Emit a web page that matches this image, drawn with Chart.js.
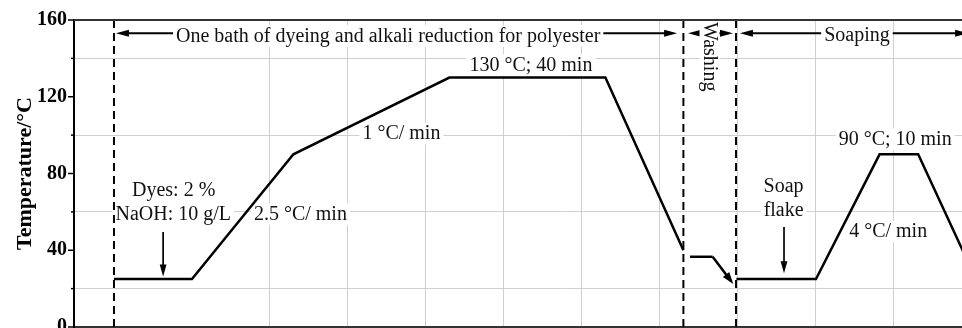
<!DOCTYPE html>
<html><head><meta charset="utf-8">
<script src="https://cdn.jsdelivr.net/npm/chart.js@4"></script>
<style>
html,body{margin:0;padding:0;overflow:hidden;background:#fff;width:962px;height:328px}
#wrap{position:absolute;left:0;top:0;width:1060px;height:360px}
</style>
</head><body><div id="wrap"><canvas id="c"></canvas></div>
<script>
// ---- data (time in min, temperature in °C) ----
const dyeingTime  = [0, 20, 46, 86, 126, 146];
const dyeingTemp  = [25, 25, 90, 130, 130, 40];
const washingTime = [147.7, 153.5];
const washingTemp = [36.6, 36.6];
const soapingTime = [159.6, 180, 196.3, 206.2, 221];
const soapingTemp = [25, 25, 90, 90, 25];
const stageBounds = [0, 146, 159.5];
const yTickLabels = [0, 40, 80, 120, 160];

// ---- annotations (in data units) ----
const spanArrows = [
  {from: 0.5,   to: 144.4, at: 153.1},
  {from: 147.2, to: 158.7, at: 153.1},
  {from: 160.5, to: 219,   at: 153.1}
];
const downArrows = [
  {x: 12.6,  from: 49.5, to: 26.3},
  {x: 171.8, from: 52.1, to: 28}
];
const washArrow = {x1: 153.5, y1: 36.6, x2: 158.8, y2: 22.4};
const labels = [
  {text: 'One bath of dyeing and alkali reduction for polyester', x: 70.3, y: 148.7},
  {text: 'Soaping', x: 190.5, y: 149},
  {text: '130 °C; 40 min', x: 106.9, y: 133.6},
  {text: '1 °C/ min', x: 73.7, y: 97.8},
  {text: 'Dyes: 2 %', x: 15.3, y: 68.3},
  {text: 'NaOH: 10 g/L', x: 15.2, y: 55.8},
  {text: '2.5 °C/ min', x: 47.8, y: 55.8},
  {text: '90 °C; 10 min', x: 200.3, y: 94.9},
  {text: '4 °C/ min', x: 198.5, y: 46.7},
  {text: 'Soap', x: 171.7, y: 70.5},
  {text: 'flake', x: 171.7, y: 57.8}
];
const rotatedLabel = {text: 'Washing', x: 152.7, y: 140.9};

const FONT = "'Liberation Serif', 'Times New Roman', serif";
const pts = (xs, ys) => xs.map((t, i) => ({x: t, y: ys[i]}));

function drawArrow(ctx, x1, y1, x2, y2, lw, hl, hw) {
  const dx = x2 - x1, dy = y2 - y1, L = Math.hypot(dx, dy), ux = dx / L, uy = dy / L;
  const bx = x2 - ux * hl, by = y2 - uy * hl;
  ctx.lineWidth = lw; ctx.strokeStyle = '#000'; ctx.fillStyle = '#000'; ctx.lineCap = 'butt';
  ctx.beginPath(); ctx.moveTo(x1, y1); ctx.lineTo(bx + ux, by + uy); ctx.stroke();
  ctx.beginPath(); ctx.moveTo(x2, y2);
  ctx.lineTo(bx - uy * hw, by + ux * hw);
  ctx.lineTo(bx + uy * hw, by - ux * hw);
  ctx.closePath(); ctx.fill();
}

const annot = {
  id: 'annot',
  beforeDatasetsDraw(chart) {
    const {ctx, scales: {x, y}, chartArea} = chart;
    ctx.save();
    // y tick marks (major long, minor short)
    ctx.strokeStyle = '#000'; ctx.lineWidth = 1.5;
    y.ticks.forEach(t => {
      const py = y.getPixelForValue(t.value);
      const len = yTickLabels.includes(t.value) ? 6 : 3;
      ctx.beginPath(); ctx.moveTo(chartArea.left - len, py); ctx.lineTo(chartArea.left, py); ctx.stroke();
    });
    // double-headed span arrows
    spanArrows.forEach(a => {
      const py = y.getPixelForValue(a.at);
      const p1 = x.getPixelForValue(a.from), p2 = x.getPixelForValue(a.to), m = (p1 + p2) / 2;
      drawArrow(ctx, m, py, p1, py, 2.2, 13, 3.6);
      drawArrow(ctx, m, py, p2, py, 2.2, 13, 3.6);
    });
    // down arrows
    downArrows.forEach(a => {
      const px = x.getPixelForValue(a.x);
      drawArrow(ctx, px, y.getPixelForValue(a.from), px, y.getPixelForValue(a.to), 1.7, 12, 3.4);
    });
    // labels with white background
    ctx.font = '20px ' + FONT; ctx.textAlign = 'center'; ctx.textBaseline = 'alphabetic';
    labels.forEach(l => {
      const px = x.getPixelForValue(l.x), py = y.getPixelForValue(l.y);
      const w = ctx.measureText(l.text).width;
      ctx.fillStyle = '#fff'; ctx.fillRect(px - w / 2 - 3, py - 16.5, w + 6, 21.5);
      ctx.fillStyle = '#111'; ctx.fillText(l.text, px, py);
    });
    // rotated label
    {
      const px = x.getPixelForValue(rotatedLabel.x), py = y.getPixelForValue(rotatedLabel.y);
      ctx.save(); ctx.translate(px, py); ctx.rotate(Math.PI / 2);
      ctx.textBaseline = 'middle';
      const w = ctx.measureText(rotatedLabel.text).width;
      ctx.fillStyle = '#fff'; ctx.fillRect(-w / 2 - 2, -10, w + 4, 20);
      ctx.fillStyle = '#111'; ctx.fillText(rotatedLabel.text, 0, 0);
      ctx.restore();
    }
    ctx.restore();
  },
  afterDatasetsDraw(chart) {
    const {ctx, scales: {x, y}, chartArea} = chart;
    ctx.save();
    drawArrow(ctx, x.getPixelForValue(washArrow.x1), y.getPixelForValue(washArrow.y1),
              x.getPixelForValue(washArrow.x2), y.getPixelForValue(washArrow.y2), 2.5, 12, 4);
    ctx.strokeStyle = '#333'; ctx.lineWidth = 2;
    ctx.beginPath(); ctx.moveTo(chartArea.left, chartArea.top); ctx.lineTo(chartArea.right, chartArea.top); ctx.stroke();
    ctx.restore();
  }
};

const mainLine = {borderColor: '#000', borderWidth: 2.5, pointRadius: 0, tension: 0, fill: false, borderJoinStyle: 'miter'};
new Chart(document.getElementById('c'), {
  type: 'line',
  data: {
    datasets: [
      Object.assign({label: 'Dyeing', data: pts(dyeingTime, dyeingTemp)}, mainLine),
      Object.assign({label: 'Washing', data: pts(washingTime, washingTemp)}, mainLine),
      Object.assign({label: 'Soaping', data: pts(soapingTime, soapingTemp)}, mainLine),
      ...stageBounds.map(b => ({
        label: 'stage', data: [{x: b, y: 160}, {x: b, y: 0}],
        borderColor: '#000', borderWidth: 2, borderDash: [8, 5], pointRadius: 0, fill: false
      }))
    ]
  },
  options: {
    responsive: true, maintainAspectRatio: false, animation: false, devicePixelRatio: 1,
    layout: {padding: {top: 20, right: 10, bottom: 33, left: 0}},
    plugins: {legend: {display: false}, tooltip: {enabled: false}},
    scales: {
      x: {
        type: 'linear', min: -10.25, max: 240,
        ticks: {display: false, stepSize: 20},
        grid: {color: c => (c.tick && c.tick.value >= 40) ? '#cfcfcf' : 'rgba(0,0,0,0)', drawTicks: false, lineWidth: 1},
        border: {color: '#333', width: 2},
        afterFit: s => { s.height = 0; }
      },
      y: {
        min: 0, max: 160,
        ticks: {stepSize: 20, autoSkip: false, padding: 7, color: '#000',
                font: {family: FONT, size: 20, weight: 'bold'},
                callback: v => yTickLabels.includes(v) ? String(v) : ''},
        grid: {color: c => (c.tick && !yTickLabels.includes(c.tick.value)) ? '#cfcfcf' : 'rgba(0,0,0,0)', drawTicks: false},
        border: {color: '#000', width: 2},
        title: {display: true, text: 'Temperature/°C', color: '#000',
                font: {family: FONT, size: 22, weight: 'bold'}, padding: {top: 12, bottom: 0}},
        afterFit: s => { s.width = 74; }
      }
    }
  },
  plugins: [annot]
});
</script>
</body></html>
